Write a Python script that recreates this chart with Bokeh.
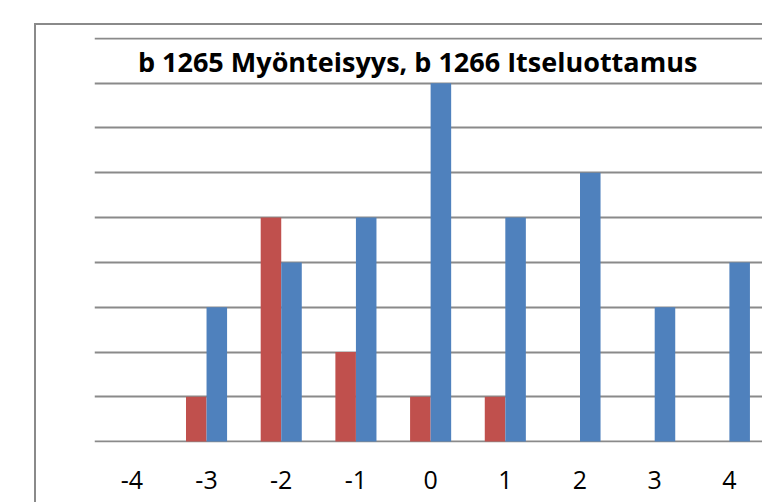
from bokeh.plotting import figure
from bokeh.models import ColumnDataSource, Range1d, FixedTicker, Label
from bokeh.transform import dodge
from bokeh.embed import file_html
from bokeh.resources import INLINE

# ---- data ----
categories = [-4, -3, -2, -1, 0, 1, 2, 3, 4]
tick_labels = ["-4", "-3", "-2", "-1", "0", "1", "2", "3", "4"]
b1265_myonteisyys = [0, 1, 5, 2, 1, 1, 0, 0, 0]
b1266_itseluottamus = [0, 3, 4, 5, 8, 5, 6, 3, 4]
title_text = "b 1265  Myönteisyys, b 1266  Itseluottamus"

src = ColumnDataSource(dict(x=categories, red=b1265_myonteisyys, blue=b1266_itseluottamus))

GRID = "#8a8a8a"
p = figure(width=728, height=479, output_backend="svg", toolbar_location=None,
           x_range=Range1d(-4.5, 4.47), y_range=Range1d(-0.02, 9.02),
           min_border_left=58, min_border_right=0, min_border_top=12, min_border_bottom=62,
           margin=(23, 0, 0, 34),
           styles={"border-left": f"2px solid {GRID}", "border-top": f"2px solid {GRID}"})
p.outline_line_color = None
p.background_fill_color = "white"
p.border_fill_color = "white"

bw = 0.275
p.vbar(x=dodge("x", -bw / 2, range=p.x_range), top="red", width=bw, bottom=0,
       source=src, fill_color="#C0504D", line_color=None)
p.vbar(x=dodge("x", bw / 2, range=p.x_range), top="blue", width=bw, bottom=0,
       source=src, fill_color="#4F81BD", line_color=None)

# axes
p.yaxis.visible = False
p.xaxis.ticker = FixedTicker(ticks=categories)
p.xaxis.major_label_overrides = {c: t for c, t in zip(categories, tick_labels)}
p.xaxis.axis_line_color = None
p.xaxis.major_tick_line_color = None
p.xaxis.minor_tick_line_color = None
p.xaxis.major_label_standoff = 22
p.xaxis.major_label_text_font = "Open Sans"
p.xaxis.major_label_text_font_size = "25px"
p.xaxis.major_label_text_color = "black"

p.xgrid.visible = False
p.ygrid.ticker = FixedTicker(ticks=list(range(0, 10)))
p.ygrid.grid_line_color = GRID
p.ygrid.grid_line_width = 2

p.add_layout(Label(x=-0.08, y=8.48, text=title_text, text_align="center",
                   text_baseline="middle", text_font="Open Sans", text_font_style="bold",
                   text_font_size="27px", text_color="black"))

open("out.html", "w").write(file_html(p, INLINE))
